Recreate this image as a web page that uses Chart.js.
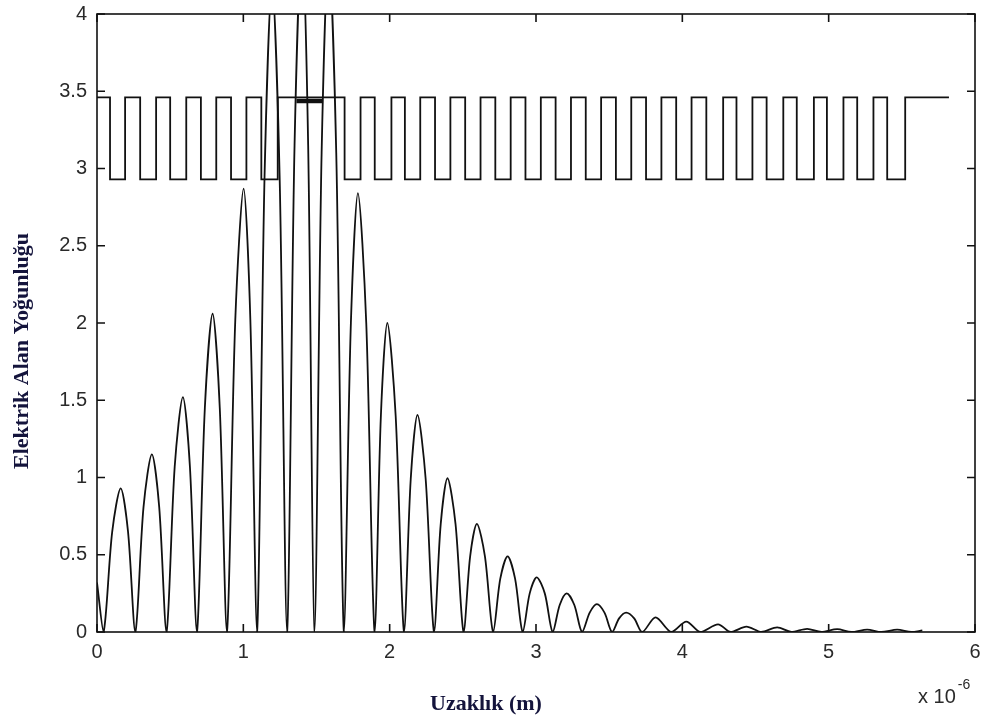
<!DOCTYPE html>
<html><head><meta charset="utf-8">
<script src="https://cdn.jsdelivr.net/npm/chart.js@4.4.0/dist/chart.umd.min.js"></script>
<style>html,body{margin:0;padding:0;background:#fff;} canvas{display:block;}</style>
</head><body>
<canvas id="c" width="988" height="725"></canvas>
<script>
// Oscillating field intensity (x in units of 1e-6 m)
const curveX = [0, 0.045, 0.104, 0.162, 0.212, 0.262, 0.318, 0.375, 0.425, 0.475,
  0.531, 0.587, 0.635, 0.683, 0.737, 0.790, 0.839, 0.888, 0.945, 1.002, 1.048, 1.094,
  1.145, 1.196, 1.248, 1.299, 1.350, 1.401, 1.443, 1.486, 1.535, 1.583, 1.635, 1.687,
  1.735, 1.783, 1.840, 1.897, 1.940, 1.984, 2.041, 2.098, 2.144, 2.190, 2.246, 2.303,
  2.349, 2.395, 2.450, 2.505, 2.550, 2.596, 2.651, 2.707, 2.756, 2.806, 2.857, 2.909,
  2.957, 3.005, 3.060, 3.114, 3.162, 3.210, 3.262, 3.315, 3.367, 3.416, 3.468, 3.520,
  3.568, 3.616, 3.671, 3.726, 3.817, 3.925, 4.027, 4.123,
  4.244, 4.330, 4.438, 4.540, 4.648, 4.745, 4.853, 4.950, 5.058, 5.155, 5.263, 5.360,
  5.468, 5.565, 5.640];
const curveY = [0.32, 0, 0.65, 0.93, 0.65, 0, 0.81, 1.15, 0.81, 0,
  1.07, 1.52, 1.07, 0, 1.45, 2.06, 1.45, 0, 2.02, 2.87, 2.02, 0,
  2.95, 4.2, 2.95, 0, 3.15, 4.5, 3.15, 0, 3.1, 4.4, 3.1, 0,
  2.0, 2.84, 2.0, 0, 1.4, 2.0, 1.4, 0, 0.99, 1.405, 0.99, 0,
  0.70, 0.995, 0.70, 0, 0.49, 0.70, 0.49, 0, 0.345, 0.49, 0.345, 0,
  0.25, 0.354, 0.25, 0, 0.175, 0.25, 0.175, 0, 0.125, 0.18, 0.125, 0,
  0.088, 0.125, 0.088, 0, 0.095, 0, 0.067, 0,
  0.05, 0, 0.035, 0, 0.03, 0, 0.02, 0, 0.018, 0, 0.016, 0,
  0.015, 0, 0.01];

// Refractive-index profile (square wave): transition positions and new level
const waveX = [0, 0.089, 0.192, 0.295, 0.404, 0.500, 0.610, 0.710, 0.815, 0.916, 1.021, 1.123, 1.235,
  1.692, 1.801, 1.898, 2.012, 2.104, 2.209, 2.310, 2.415, 2.516, 2.621, 2.722, 2.827, 2.928, 3.033,
  3.134, 3.239, 3.340, 3.445, 3.546, 3.651, 3.752, 3.857, 3.958, 4.063, 4.164, 4.279, 4.370, 4.479,
  4.576, 4.690, 4.782, 4.899, 4.988, 5.101, 5.195, 5.306, 5.400, 5.523, 5.822];
const waveY = [3.46, 2.93, 3.46, 2.93, 3.46, 2.93, 3.46, 2.93, 3.46, 2.93, 3.46, 2.93, 3.46,
  2.93, 3.46, 2.93, 3.46, 2.93, 3.46, 2.93, 3.46, 2.93, 3.46, 2.93, 3.46, 2.93, 3.46,
  2.93, 3.46, 2.93, 3.46, 2.93, 3.46, 2.93, 3.46, 2.93, 3.46, 2.93, 3.46, 2.93, 3.46,
  2.93, 3.46, 2.93, 3.46, 2.93, 3.46, 2.93, 3.46, 2.93, 3.46, 3.46];

// Short thick marker segment in the defect region
const markX = [1.363, 1.541];
const markY = [3.437, 3.437];

const xTicks = [0, 1, 2, 3, 4, 5, 6];
const yTicks = [0, 0.5, 1, 1.5, 2, 2.5, 3, 3.5, 4];
const xTitle = 'Uzaklık (m)';
const yTitle = 'Elektrik Alan Yoğunluğu';
const xExpBase = 'x 10';
const xExpPow = '-6';

function pts(xs, ys) { return xs.map((x, i) => ({ x: x, y: ys[i] })); }

const frame = {
  id: 'frame',
  afterDraw(chart) {
    const { ctx, chartArea: a, scales } = chart;
    const xs = scales.x, ys = scales.y;
    ctx.save();
    ctx.strokeStyle = '#111';
    ctx.lineWidth = 1.6;
    ctx.strokeRect(a.left, a.top, a.right - a.left, a.bottom - a.top);
    ctx.beginPath();
    xTicks.forEach(v => {
      const px = xs.getPixelForValue(v);
      ctx.moveTo(px, a.bottom); ctx.lineTo(px, a.bottom - 8);
      ctx.moveTo(px, a.top); ctx.lineTo(px, a.top + 8);
    });
    yTicks.forEach(v => {
      const py = ys.getPixelForValue(v);
      ctx.moveTo(a.left, py); ctx.lineTo(a.left + 8, py);
      ctx.moveTo(a.right, py); ctx.lineTo(a.right - 8, py);
    });
    ctx.stroke();

    // exponent
    ctx.fillStyle = '#2a2a2a';
    ctx.textBaseline = 'alphabetic';
    ctx.textAlign = 'left';
    ctx.font = '20px "Liberation Sans", Arial, sans-serif';
    ctx.fillText(xExpBase, 918, 703);
    const w = ctx.measureText(xExpBase).width;
    ctx.font = '14px "Liberation Sans", Arial, sans-serif';
    ctx.fillText(xExpPow, 918 + w + 2, 689);

    // titles
    ctx.fillStyle = '#14143c';
    ctx.font = 'bold 22px "Liberation Serif", "Times New Roman", serif';
    ctx.textAlign = 'center';
    ctx.fillText(xTitle, 486, 710);
    ctx.translate(28, 351);
    ctx.rotate(-Math.PI / 2);
    ctx.fillText(yTitle, 0, 0);
    ctx.restore();
  }
};

const lineStyle = { showLine: true, pointRadius: 0, borderColor: '#111', borderWidth: 1.8, fill: false, tension: 0 };
const fmt = v => String(v);

new Chart(document.getElementById('c'), {
  type: 'scatter',
  data: {
    datasets: [
      Object.assign({ label: 'E', data: pts(curveX, curveY) }, lineStyle, { tension: 0.3 }),
      Object.assign({ label: 'n', data: pts(waveX, waveY), stepped: true }, lineStyle),
      Object.assign({ label: 'm', data: pts(markX, markY) }, lineStyle, { borderWidth: 4.5 })
    ]
  },
  options: {
    responsive: false,
    animation: false,
    events: [],
    layout: { padding: { left: 0, top: 14, right: 13, bottom: 0 } },
    plugins: { legend: { display: false }, tooltip: { enabled: false } },
    scales: {
      x: {
        type: 'linear', min: 0, max: 6,
        afterBuildTicks: s => { s.ticks = xTicks.map(v => ({ value: v })); },
        afterFit: s => { s.height = 93; s.paddingLeft = 0; s.paddingRight = 0; },
        grid: { display: false, drawTicks: false },
        border: { display: false },
        ticks: { padding: 8, color: '#2a2a2a', callback: fmt, font: { family: '"Liberation Sans", Arial, sans-serif', size: 20 } }
      },
      y: {
        type: 'linear', min: 0, max: 4,
        afterBuildTicks: s => { s.ticks = yTicks.map(v => ({ value: v })); },
        afterFit: s => { s.width = 97; s.paddingTop = 0; s.paddingBottom = 0; },
        grid: { display: false, drawTicks: false },
        border: { display: false },
        ticks: { padding: 10, color: '#2a2a2a', callback: fmt, font: { family: '"Liberation Sans", Arial, sans-serif', size: 20 } }
      }
    }
  },
  plugins: [frame]
});
</script>
</body></html>
